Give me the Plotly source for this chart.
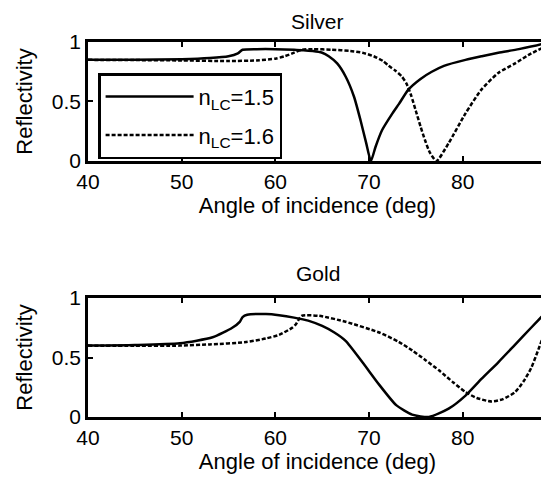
import plotly.graph_objects as go

# ---- data ----
silver_x_15 = [40, 45, 50, 53, 55, 56, 56.5, 58, 60, 62, 63, 64, 65, 65.7, 66.6, 67.5, 68.4, 69.1, 69.7, 70.2,
               70.7, 71.4, 72.5, 73.2, 74.2, 75.5, 76.7, 78, 80.3, 82, 83.8, 86, 88.8, 89]
silver_y_15 = [0.85, 0.85, 0.855, 0.865, 0.88, 0.905, 0.935, 0.94, 0.94, 0.935, 0.93, 0.925, 0.91, 0.88, 0.82,
               0.71, 0.54, 0.34, 0.15, 0.0, 0.12, 0.26, 0.40, 0.48, 0.60, 0.69, 0.75, 0.80, 0.85, 0.88, 0.91,
               0.94, 0.99, 0.995]

silver_x_16 = [40, 45, 50, 55, 58, 60, 61, 62, 62.8, 64, 66, 68, 69.3, 70.5, 71.5, 72.1, 72.8, 73.5, 74.0, 74.5,
               75.0, 75.5, 76.0, 76.5, 77.2, 78.5, 80.3, 82, 83.8, 85.6, 87, 89]
silver_y_16 = [0.85, 0.848, 0.845, 0.84, 0.845, 0.86, 0.88, 0.91, 0.935, 0.94, 0.935, 0.925, 0.91, 0.88, 0.84,
               0.80, 0.76, 0.71, 0.65, 0.55, 0.42, 0.29, 0.17, 0.07, 0.0, 0.15, 0.40, 0.60, 0.74, 0.82, 0.89, 0.97]

gold_x_15 = [40, 45, 49.8, 53.3, 55.4, 56.2, 56.5, 57, 59, 60.4, 62, 63.5, 65, 66.3, 67.5, 69.3, 71.1, 72.9,
             74.6, 76.4, 78.5, 80.3, 82, 83.8, 85.5, 87.3, 89]
gold_y_15 = [0.60, 0.605, 0.62, 0.67, 0.75, 0.80, 0.84, 0.86, 0.865, 0.855, 0.835, 0.81, 0.765, 0.71, 0.64,
             0.46, 0.27, 0.10, 0.02, 0.0, 0.07, 0.18, 0.32, 0.46, 0.60, 0.75, 0.89]

gold_x_16 = [40, 45, 49.8, 53, 56.9, 59, 60.4, 61.8, 62.2, 62.8, 64.7, 67.5, 71.1, 73.2, 74.6, 76, 77.5, 79,
             80.3, 81.5, 83.1, 84.3, 85.6, 86.5, 87.3, 88, 88.8, 89]
gold_y_16 = [0.60, 0.598, 0.60, 0.61, 0.63, 0.66, 0.69, 0.75, 0.78, 0.85, 0.85, 0.80, 0.71, 0.63, 0.56, 0.48,
             0.39, 0.29, 0.21, 0.16, 0.13, 0.15, 0.21, 0.30, 0.41, 0.55, 0.72, 0.76]

x_ticks = [40, 50, 60, 70, 80]
y_ticks = [0, 0.5, 1]
y_tick_text = ["0", "0.5", "1"]
legend_names = ["n<sub>LC</sub>=1.5", "n<sub>LC</sub>=1.6"]
panel_titles = ["Silver", "Gold"]
x_title = "Angle of incidence (deg)"
y_title = "Reflectivity"

FONT = "Liberation Sans, Arial, Helvetica, sans-serif"
LW = 2.5
DASH = "4px,2px"
SMOOTH = 0.6

fig = go.Figure()
fig.add_trace(go.Scatter(x=silver_x_15, y=silver_y_15, mode="lines", name=legend_names[0], legendgroup="a",
                         line=dict(color="black", width=LW, shape="spline", smoothing=SMOOTH),
                         xaxis="x", yaxis="y"))
fig.add_trace(go.Scatter(x=silver_x_16, y=silver_y_16, mode="lines", name=legend_names[1], legendgroup="b",
                         line=dict(color="black", width=LW, dash=DASH, shape="spline", smoothing=SMOOTH),
                         xaxis="x", yaxis="y"))
fig.add_trace(go.Scatter(x=gold_x_15, y=gold_y_15, mode="lines", showlegend=False,
                         line=dict(color="black", width=LW, shape="spline", smoothing=SMOOTH),
                         xaxis="x2", yaxis="y2"))
fig.add_trace(go.Scatter(x=gold_x_16, y=gold_y_16, mode="lines", showlegend=False,
                         line=dict(color="black", width=LW, dash=DASH, shape="spline", smoothing=SMOOTH),
                         xaxis="x2", yaxis="y2"))

common_x = dict(range=[40, 89], tickvals=x_ticks, ticks="inside", ticklen=5, tickwidth=2,
                tickcolor="black", showline=True, linecolor="black", linewidth=2.5, mirror="ticks",
                showgrid=False, zeroline=False, tickfont=dict(size=21, color="black"), automargin=False,
                title=dict(text=x_title, font=dict(size=22, color="black"), standoff=4))
common_y = dict(range=[0, 1], tickvals=y_ticks, ticktext=y_tick_text, ticks="inside", ticklen=5,
                tickwidth=2, tickcolor="black", showline=True, linecolor="black", linewidth=2.5,
                mirror="ticks", showgrid=False, zeroline=False, tickfont=dict(size=21, color="black"),
                automargin=False,
                title=dict(text=y_title, font=dict(size=22, color="black"), standoff=14))

# the page body has an 8px default margin, so the figure is 8px smaller than the window
fig.update_layout(
    width=541, height=475,
    margin=dict(l=80, r=2, t=34, b=66),
    paper_bgcolor="white", plot_bgcolor="white",
    font=dict(family=FONT, color="black"),
    xaxis=dict(domain=[0, 1], anchor="y", **common_x),
    yaxis=dict(domain=[0.6827, 1], anchor="x", **common_y),
    xaxis2=dict(domain=[0, 1], anchor="y2", **common_x),
    yaxis2=dict(domain=[0, 0.3173], anchor="x2", **common_y),
    legend=dict(x=0.022, y=0.917, xanchor="left", yanchor="top", bgcolor="white",
                bordercolor="black", borderwidth=2.5, font=dict(size=22, color="black"),
                itemwidth=88, tracegroupgap=7),
    showlegend=True,
    annotations=[
        dict(text=panel_titles[0], x=0.5, y=1.0907, xref="paper", yref="paper", showarrow=False,
             xanchor="center", yanchor="top", font=dict(size=21, color="black")),
        dict(text=panel_titles[1], x=0.5, y=0.384, xref="paper", yref="paper", showarrow=False,
             xanchor="center", yanchor="middle", font=dict(size=21, color="black")),
    ],
)

fig.write_html("out.html")
